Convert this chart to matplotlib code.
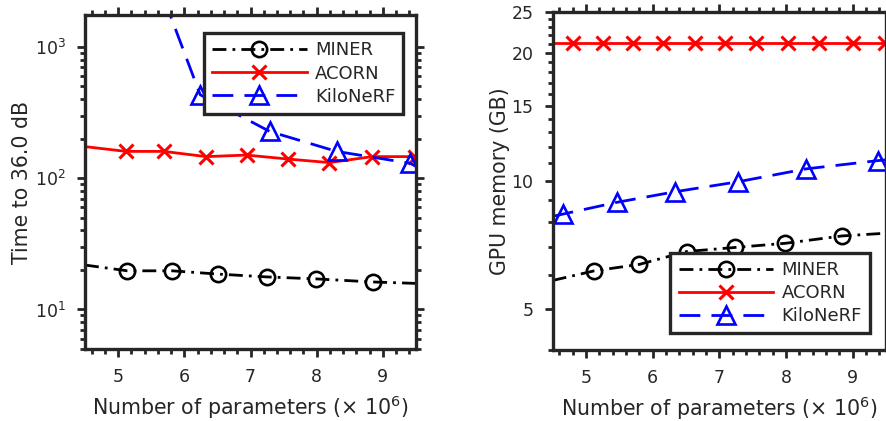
import matplotlib
matplotlib.use("Agg")
import matplotlib.pyplot as plt
from matplotlib.ticker import MultipleLocator, FixedLocator, ScalarFormatter, NullFormatter
import numpy as np

# ------------------------------
# values (x in millions of parameters)
labels = ["MINER", "ACORN", "KiloNeRF"]

# left panel: time to 36.0 dB
t_miner_x = [4.5, 5.14, 5.82, 6.51, 7.25, 7.99, 8.85, 9.5]
t_miner_y = [21.8, 19.7, 19.7, 18.6, 17.7, 17.1, 16.2, 15.8]
t_acorn_x = [4.5, 5.12, 5.69, 6.33, 6.94, 7.56, 8.19, 8.84, 9.49]
t_acorn_y = [174, 160, 160, 146, 150, 140, 131.5, 146, 146]
t_kilo_x = [5.2, 6.24, 7.29, 8.30, 9.41, 9.5]
t_kilo_y = [10700, 432, 227, 160, 130, 123]

# right panel: GPU memory (GB)
m_miner_x = [4.5, 5.12, 5.80, 6.51, 7.23, 7.99, 8.84, 9.5]
m_miner_y = [5.83, 6.14, 6.36, 6.82, 6.97, 7.13, 7.42, 7.53]
m_acorn_x = [4.5, 4.80, 5.25, 5.70, 6.15, 6.63, 7.09, 7.55, 8.03, 8.50, 9.00, 9.48]
m_acorn_y = [21.1] * 12
m_kilo_x = [4.5, 4.65, 5.46, 6.34, 7.28, 8.30, 9.38, 9.5]
m_kilo_y = [8.25, 8.35, 8.90, 9.43, 9.95, 10.67, 11.16, 11.2]
# ------------------------------

plt.rcParams['font.family'] = 'DejaVu Sans'
plt.rcParams['mathtext.fontset'] = 'dejavusans'
txt = '#262626'

fig = plt.figure(figsize=(8.87, 4.21), dpi=100)
ax1 = fig.add_axes([85/887, 1-349/421, 331/887, 334/421])
ax2 = fig.add_axes([552.7/887, 1-350/421, 333.3/887, 338.3/421])

lw = 2.0
dd = (0, (5.0, 2.2, 1.0, 2.2))   # dash-dot
dsh = (0, (7.5, 4.0))            # dashed
mk = dict(markersize=11, markeredgewidth=1.9, fillstyle='none')


def draw(ax, mx, my, ax_, ay, kx, ky):
    ax.plot(mx, my, color='k', lw=lw, ls=dd, marker='o',
            markevery=list(range(1, len(mx) - 1)), label=labels[0], **mk)
    ax.plot(ax_, ay, color='#ff0000', lw=lw, ls='-', marker='x',
            markevery=list(range(1, len(ax_))), label=labels[1],
            markersize=10, markeredgewidth=2.2)
    ax.plot(kx, ky, color='#0000ff', lw=lw, ls=dsh, marker='^',
            markevery=list(range(0 if kx[0] > 4.6 else 1, len(kx) - 1)),
            label=labels[2], markersize=12.5, markeredgewidth=1.9, fillstyle='none')


draw(ax1, t_miner_x, t_miner_y, t_acorn_x, t_acorn_y, t_kilo_x, t_kilo_y)
draw(ax2, m_miner_x, m_miner_y, m_acorn_x, m_acorn_y, m_kilo_x, m_kilo_y)

for ax in (ax1, ax2):
    ax.set_yscale('log')
    ax.set_xlim(4.5, 9.5)
    ax.xaxis.set_major_locator(FixedLocator([5, 6, 7, 8, 9]))
    ax.xaxis.set_minor_locator(MultipleLocator(0.2))
    for s in ax.spines.values():
        s.set_linewidth(2.4)
        s.set_color(txt)
    ax.tick_params(which='both', direction='out', top=True, right=True,
                   color=txt, labelcolor=txt, width=2.0, labelsize=12.5, pad=8)
    ax.tick_params(which='major', length=6)
    ax.tick_params(which='minor', length=3.5)
    ax.set_xlabel(r'Number of parameters ($\times$ 10$^{6}$)', fontsize=14.8,
                  color=txt, labelpad=5)

ax1.set_ylim(5, 1750)
ax1.set_ylabel('Time to 36.0 dB', fontsize=14.8, color=txt, labelpad=2)

ax2.set_ylim(4, 25)
ax2.yaxis.set_major_locator(FixedLocator([5, 10, 15, 20, 25]))
ax2.yaxis.set_major_formatter(ScalarFormatter())
ax2.yaxis.set_minor_locator(MultipleLocator(1))
ax2.yaxis.set_minor_formatter(NullFormatter())
ax2.set_ylabel('GPU memory (GB)', fontsize=14.8, color=txt, labelpad=1)

leg_kw = dict(numpoints=1, fancybox=False, framealpha=1, fontsize=13,
              handlelength=5.25, handletextpad=0.45, borderaxespad=0,
              labelspacing=0.28, borderpad=0.45)
l1 = ax1.legend(loc='upper right', bbox_to_anchor=(0.962, 0.945), **leg_kw)
l2 = ax2.legend(loc='lower right', bbox_to_anchor=(0.952, 0.049), **leg_kw)
for lg in (l1, l2):
    lg.get_frame().set_edgecolor(txt)
    lg.get_frame().set_linewidth(2.4)
    for t in lg.get_texts():
        t.set_color(txt)

fig.savefig('out.png', dpi=100)
